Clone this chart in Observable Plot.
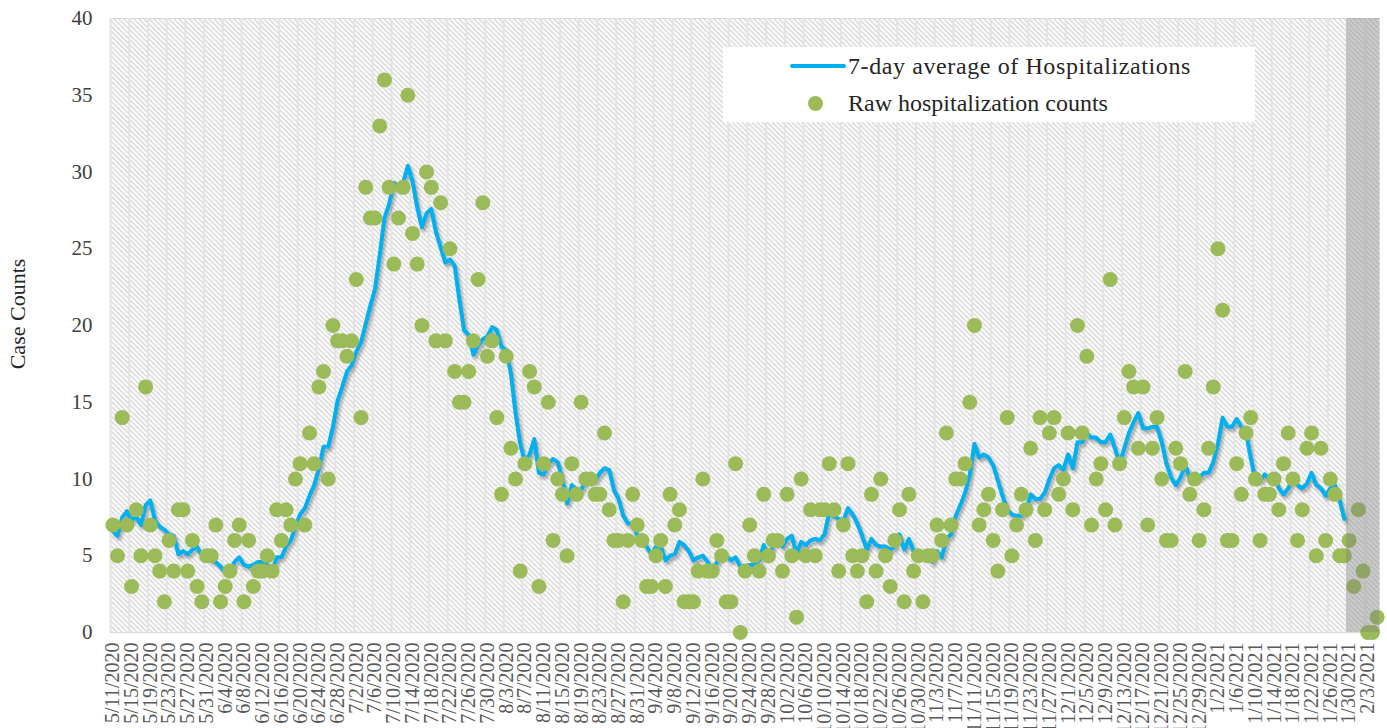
<!DOCTYPE html>
<html><head><meta charset="utf-8">
<script src="https://cdn.jsdelivr.net/npm/d3@7"></script>
<script src="https://cdn.jsdelivr.net/npm/@observablehq/plot@0.6"></script>
<style>
body{margin:0;background:#fff;}
#wrap{position:relative;width:1387px;height:728px;overflow:hidden;font-family:"Liberation Serif","DejaVu Serif",serif;}
#chart svg{position:absolute;left:0;top:0;}
#chart svg g[aria-label^="x-axis"] text{font-size:20px;fill:#595959;font-family:"Liberation Serif",serif;}
#chart svg g[aria-label^="y-axis"] text{font-size:21px;fill:#404040;font-family:"Liberation Serif",serif;}
#ylab{position:absolute;left:18px;top:314px;transform:translate(-50%,-50%) rotate(-90deg);font-size:22px;color:#262626;white-space:nowrap;}
#legend{position:absolute;left:723px;top:47px;width:532px;height:75px;background:#fff;color:#262626;font-size:24px;}
#legend .ln{position:absolute;left:67px;top:17px;width:56px;height:4px;background:#00B0F0;border-radius:2px;}
#legend .dt{position:absolute;left:85px;top:49px;width:15px;height:15px;border-radius:50%;background:#9BBB59;}
#legend .t{position:absolute;left:125px;white-space:nowrap;line-height:28px;}
</style></head><body>
<div id="wrap"><div id="chart"></div>
<div id="ylab">Case Counts</div>
<div id="legend"><div class="ln"></div><div class="t" style="top:5px;letter-spacing:0.6px">7-day average of Hospitalizations</div><div class="dt"></div><div class="t" style="top:42px">Raw hospitalization counts</div></div>
</div>
<script>
const startDate = "2020-05-11";
const rawCounts = [
7,5,14,7,3,8,5,16,7,5,
4,2,6,4,8,8,4,6,3,2,
5,5,7,2,3,4,6,7,2,6,
3,4,4,5,4,8,6,8,7,10,
11,7,13,11,16,17,10,20,19,19,
18,19,23,14,29,27,27,33,36,29,
24,27,29,35,26,24,20,30,29,19,
28,19,25,17,15,15,17,19,23,28,
18,19,14,9,18,12,10,4,11,17,
16,3,11,15,6,10,9,5,11,9,
15,10,10,9,9,13,8,6,6,2,
6,9,7,6,3,3,5,6,3,9,
7,8,2,2,2,4,10,4,4,6,
5,2,2,11,0,4,7,5,4,9,
5,6,6,4,9,5,1,10,5,8,
5,8,8,11,8,4,7,11,5,4,
5,2,9,4,10,5,3,6,8,2,
9,4,5,2,5,5,7,6,13,7,
10,10,11,15,20,7,8,9,6,4,
8,14,5,7,9,8,12,6,14,8,
13,14,9,10,13,8,20,13,18,7,
10,11,8,23,7,11,14,17,16,12,
16,7,12,14,10,6,6,12,11,17,
9,10,6,8,12,16,25,21,6,6,
11,9,13,14,10,6,9,9,10,8,
11,13,10,6,8,12,13,5,12,6,
10,9,5,5,6,3,8,4,0,0,
1];
const avg7 = [
6.6,6.3,7.5,7.9,7.3,7.6,7.0,8.3,8.6,7.3,
6.9,6.7,6.4,6.3,5.1,5.3,5.1,5.4,5.6,5.0,
5.1,4.7,4.6,4.3,3.9,4.0,4.6,4.9,4.4,4.3,
4.4,4.6,4.6,4.4,4.0,4.9,4.9,5.6,6.0,6.9,
7.7,8.1,8.9,9.6,10.7,12.1,12.1,13.4,15.1,16.0,
17.0,17.4,18.3,18.9,20.1,21.3,22.4,24.6,27.0,27.9,
29.3,29.0,29.3,30.4,29.4,27.7,26.4,27.3,27.6,26.1,
25.1,24.1,24.3,23.9,21.7,19.7,19.4,18.1,18.7,19.1,
19.3,19.9,19.7,18.6,18.4,16.9,14.3,12.3,11.1,11.6,
12.6,10.4,10.3,11.0,11.3,11.1,10.0,8.4,9.6,9.3,
9.3,9.9,9.9,9.9,10.4,10.7,10.6,9.3,8.7,7.6,
7.1,7.1,6.3,6.0,5.6,5.1,5.6,5.6,4.7,5.0,
5.1,5.9,5.7,5.3,4.7,4.9,5.0,4.6,4.0,4.6,
5.0,5.0,4.7,4.9,4.3,4.3,4.4,4.4,4.7,5.7,
4.9,5.7,6.0,5.6,6.1,6.3,5.1,5.9,5.7,6.0,
6.1,6.0,6.4,7.9,7.6,7.4,7.3,8.1,7.7,7.1,
6.3,5.4,6.1,5.7,5.6,5.6,5.4,5.6,6.4,5.4,
6.1,5.3,5.3,5.1,5.0,4.6,5.3,4.9,6.1,6.4,
7.6,8.3,9.1,10.3,12.3,11.4,11.6,11.4,10.9,9.9,
8.9,8.0,7.7,7.6,7.6,7.9,9.0,8.7,8.7,9.1,
10.0,10.7,10.9,10.6,11.6,10.7,12.4,12.4,13.0,12.7,
12.7,12.4,12.4,12.9,12.0,11.0,12.0,13.0,13.7,14.3,
13.3,13.3,13.4,13.4,12.4,11.0,10.1,9.6,10.1,10.9,
10.1,10.1,10.1,10.4,10.4,11.1,12.3,14.0,13.4,13.4,
13.9,13.4,13.0,11.4,9.9,9.9,10.3,10.0,10.1,9.4,
9.0,9.4,10.0,9.6,9.4,9.7,10.4,9.6,9.4,8.9,
9.4,9.6,8.6,7.4];
const tickLabels = ["5/11/2020","5/15/2020","5/19/2020","5/23/2020","5/27/2020","5/31/2020",
"6/4/2020","6/8/2020","6/12/2020","6/16/2020","6/20/2020","6/24/2020","6/28/2020",
"7/2/2020","7/6/2020","7/10/2020","7/14/2020","7/18/2020","7/22/2020","7/26/2020","7/30/2020",
"8/3/2020","8/7/2020","8/11/2020","8/15/2020","8/19/2020","8/23/2020","8/27/2020","8/31/2020",
"9/4/2020","9/8/2020","9/12/2020","9/16/2020","9/20/2020","9/24/2020","9/28/2020",
"10/2/2020","10/6/2020","10/10/2020","10/14/2020","10/18/2020","10/22/2020","10/26/2020","10/30/2020",
"11/3/2020","11/7/2020","11/11/2020","11/15/2020","11/19/2020","11/23/2020","11/27/2020",
"12/1/2020","12/5/2020","12/9/2020","12/13/2020","12/17/2020","12/21/2020","12/25/2020","12/29/2020",
"1/2/2021","1/6/2021","1/10/2021","1/14/2021","1/18/2021","1/22/2021","1/26/2021","1/30/2021","2/3/2021"];
const yTicks = [0,5,10,15,20,25,30,35,40];
const shadeFrom = "1/30/2021";
const seriesNames = ["7-day average of Hospitalizations","Raw hospitalization counts"];

const parseISO = d3.utcParse("%Y-%m-%d");
const parseLabel = d3.utcParse("%-m/%-d/%Y");
const t0 = parseISO(startDate);
const dayOf = i => d3.utcDay.offset(t0, i);
const rawData = rawCounts.map((v, i) => ({date: dayOf(i), value: v}));
const avgData = avg7.map((v, i) => ({date: dayOf(i), value: v}));
const half = 12 * 3600 * 1000;
const tickDates = tickLabels.map(parseLabel);
const labelByTime = new Map(tickLabels.map(s => [+parseLabel(s), s]));
const gridDates = tickDates.map(d => new Date(+d - half));
const xStart = new Date(+t0 - half);
const xEnd = new Date(+dayOf(rawCounts.length - 1) + half);
const shade = [{x1: new Date(+parseLabel(shadeFrom) - half), x2: xEnd}];

const svg = Plot.plot({
  width: 1387, height: 728,
  marginLeft: 110, marginRight: 8, marginTop: 18, marginBottom: 96,
  style: {fontFamily: "Liberation Serif", background: "transparent", overflow: "hidden"},
  x: {type: "utc", domain: [xStart, xEnd], ticks: tickDates, tickFormat: d => labelByTime.get(+d), tickRotate: -90, tickSize: 0, tickPadding: 10, label: null},
  y: {domain: [0, 40], ticks: yTicks, tickSize: 0, tickPadding: 18, label: null},
  marks: [
    Plot.frame({fill: "#f0f0f0", stroke: "#d9d9d9", ariaDescription: "bg"}),
    Plot.ruleX(gridDates, {stroke: "#e4e4e4", strokeWidth: 2}),
    Plot.line(avgData, {x: "date", y: "value", stroke: "#000", strokeOpacity: 0.3, strokeWidth: 4, dx: 2, dy: 3, ariaDescription: "shadow"}),
    Plot.line(avgData, {x: "date", y: "value", stroke: "#00B0F0", strokeWidth: 4, strokeLinejoin: "round", strokeLinecap: "round"}),
    Plot.dot(rawData, {x: "date", y: "value", r: 7.5, fill: "#9BBB59", stroke: "none"}),
    Plot.rect(shade, {x1: "x1", x2: "x2", y1: 0, y2: 40, fill: "#7f7f7f", fillOpacity: 0.38})
  ]
});
const s = d3.select(svg);
const pat = s.insert("defs", ":first-child").append("pattern")
  .attr("id", "hatch").attr("patternUnits", "userSpaceOnUse").attr("width", 5).attr("height", 5);
pat.append("rect").attr("width", 5).attr("height", 5).attr("fill", "#ffffff");
pat.append("path").attr("d", "M-1,-1L6,6M-1,4L1,6M4,-1L6,1").attr("stroke", "#c9c9c9").attr("stroke-width", 1.2);
s.selectAll('[aria-description="bg"], [aria-description="bg"] rect').attr("fill", "url(#hatch)");
s.selectAll('[aria-description="shadow"]').style("filter", "blur(1.5px)");
document.getElementById("chart").appendChild(svg);
</script>
</body></html>
